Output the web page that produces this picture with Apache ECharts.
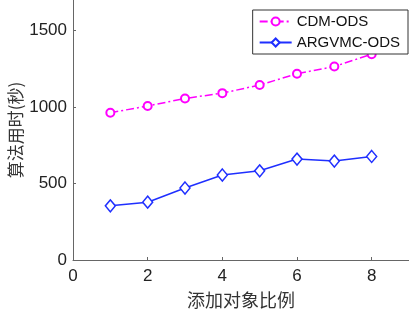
<!DOCTYPE html>
<html>
<head>
<meta charset="utf-8">
<script src="https://cdn.jsdelivr.net/npm/echarts@6/dist/echarts.min.js"></script>
<style>
  html, body { margin: 0; padding: 0; background: #fff; }
  #main { width: 409px; height: 314px; }
</style>
</head>
<body>
<div id="main"></div>
<script>
// 数据
const ratios = [1, 2, 3, 4, 5, 6, 7, 8];
const cdmOds = [963, 1007, 1056, 1091, 1144, 1218, 1265, 1346];
const argvmcOds = [354, 378, 471, 556, 583, 660, 647, 677];
const seriesNames = ['CDM-ODS', 'ARGVMC-ODS'];

const pairs = (ys) => ratios.map((x, i) => [x, ys[i]]);

const latin = 'Arial, "Liberation Sans", sans-serif';
const cjk = '"Noto Sans CJK SC", sans-serif';

const chart = echarts.init(document.getElementById('main'));
chart.setOption({
    animation: false,
    grid: { left: 73, right: 0, top: 0, bottom: 54, containLabel: false, outerBoundsMode: 'none' },
    legend: {
        orient: 'vertical',
        right: 1,
        top: 10,
        data: seriesNames,
        itemWidth: 32,
        itemHeight: 10,
        itemGap: 6,
        padding: [4, 8, 4, 6],
        borderColor: '#333',
        borderWidth: 1,
        backgroundColor: '#fff',
        textStyle: { fontFamily: latin, fontSize: 15, color: '#111' }
    },
    xAxis: {
        type: 'value',
        min: 0,
        max: 9,
        interval: 2,
        name: '添加对象比例',
        nameLocation: 'middle',
        nameGap: 31,
        nameMoveOverlap: false,
        nameTextStyle: { fontFamily: cjk, fontSize: 18, color: '#333' },
        axisLine: { lineStyle: { color: '#666' } },
        axisTick: { inside: true, length: 3, lineStyle: { color: '#666' } },
        axisLabel: { fontFamily: latin, fontSize: 17, color: '#222', margin: 8, showMaxLabel: false },
        splitLine: { show: false }
    },
    yAxis: {
        type: 'value',
        min: 0,
        max: 1700,
        interval: 500,
        name: '算法用时(秒)',
        nameLocation: 'middle',
        nameGap: 49,
        nameMoveOverlap: false,
        nameTextStyle: { fontFamily: cjk, fontSize: 17, color: '#333' },
        axisLine: { show: true, lineStyle: { color: '#666' } },
        axisTick: { show: true, inside: true, length: 3, lineStyle: { color: '#666' } },
        axisLabel: {
            fontFamily: latin, fontSize: 17, color: '#222', margin: 6, showMaxLabel: false,
            formatter: (v) => String(v)
        },
        splitLine: { show: false }
    },
    series: [
        {
            name: seriesNames[0],
            type: 'line',
            data: pairs(cdmOds),
            symbol: 'emptyCircle',
            symbolSize: 8,
            color: '#ff00ff',
            lineStyle: { width: 1.5, type: [8, 3, 2, 3], color: '#ff00ff' },
            itemStyle: { color: '#ff00ff', borderWidth: 1.5 }
        },
        {
            name: seriesNames[1],
            type: 'line',
            data: pairs(argvmcOds),
            symbol: 'diamond',
            symbolSize: [10, 12],
            color: '#1f2fff',
            lineStyle: { width: 1.5, color: '#1f2fff' },
            itemStyle: { color: '#fff', borderColor: '#1f2fff', borderWidth: 1.5 }
        }
    ]
});
</script>
</body>
</html>
